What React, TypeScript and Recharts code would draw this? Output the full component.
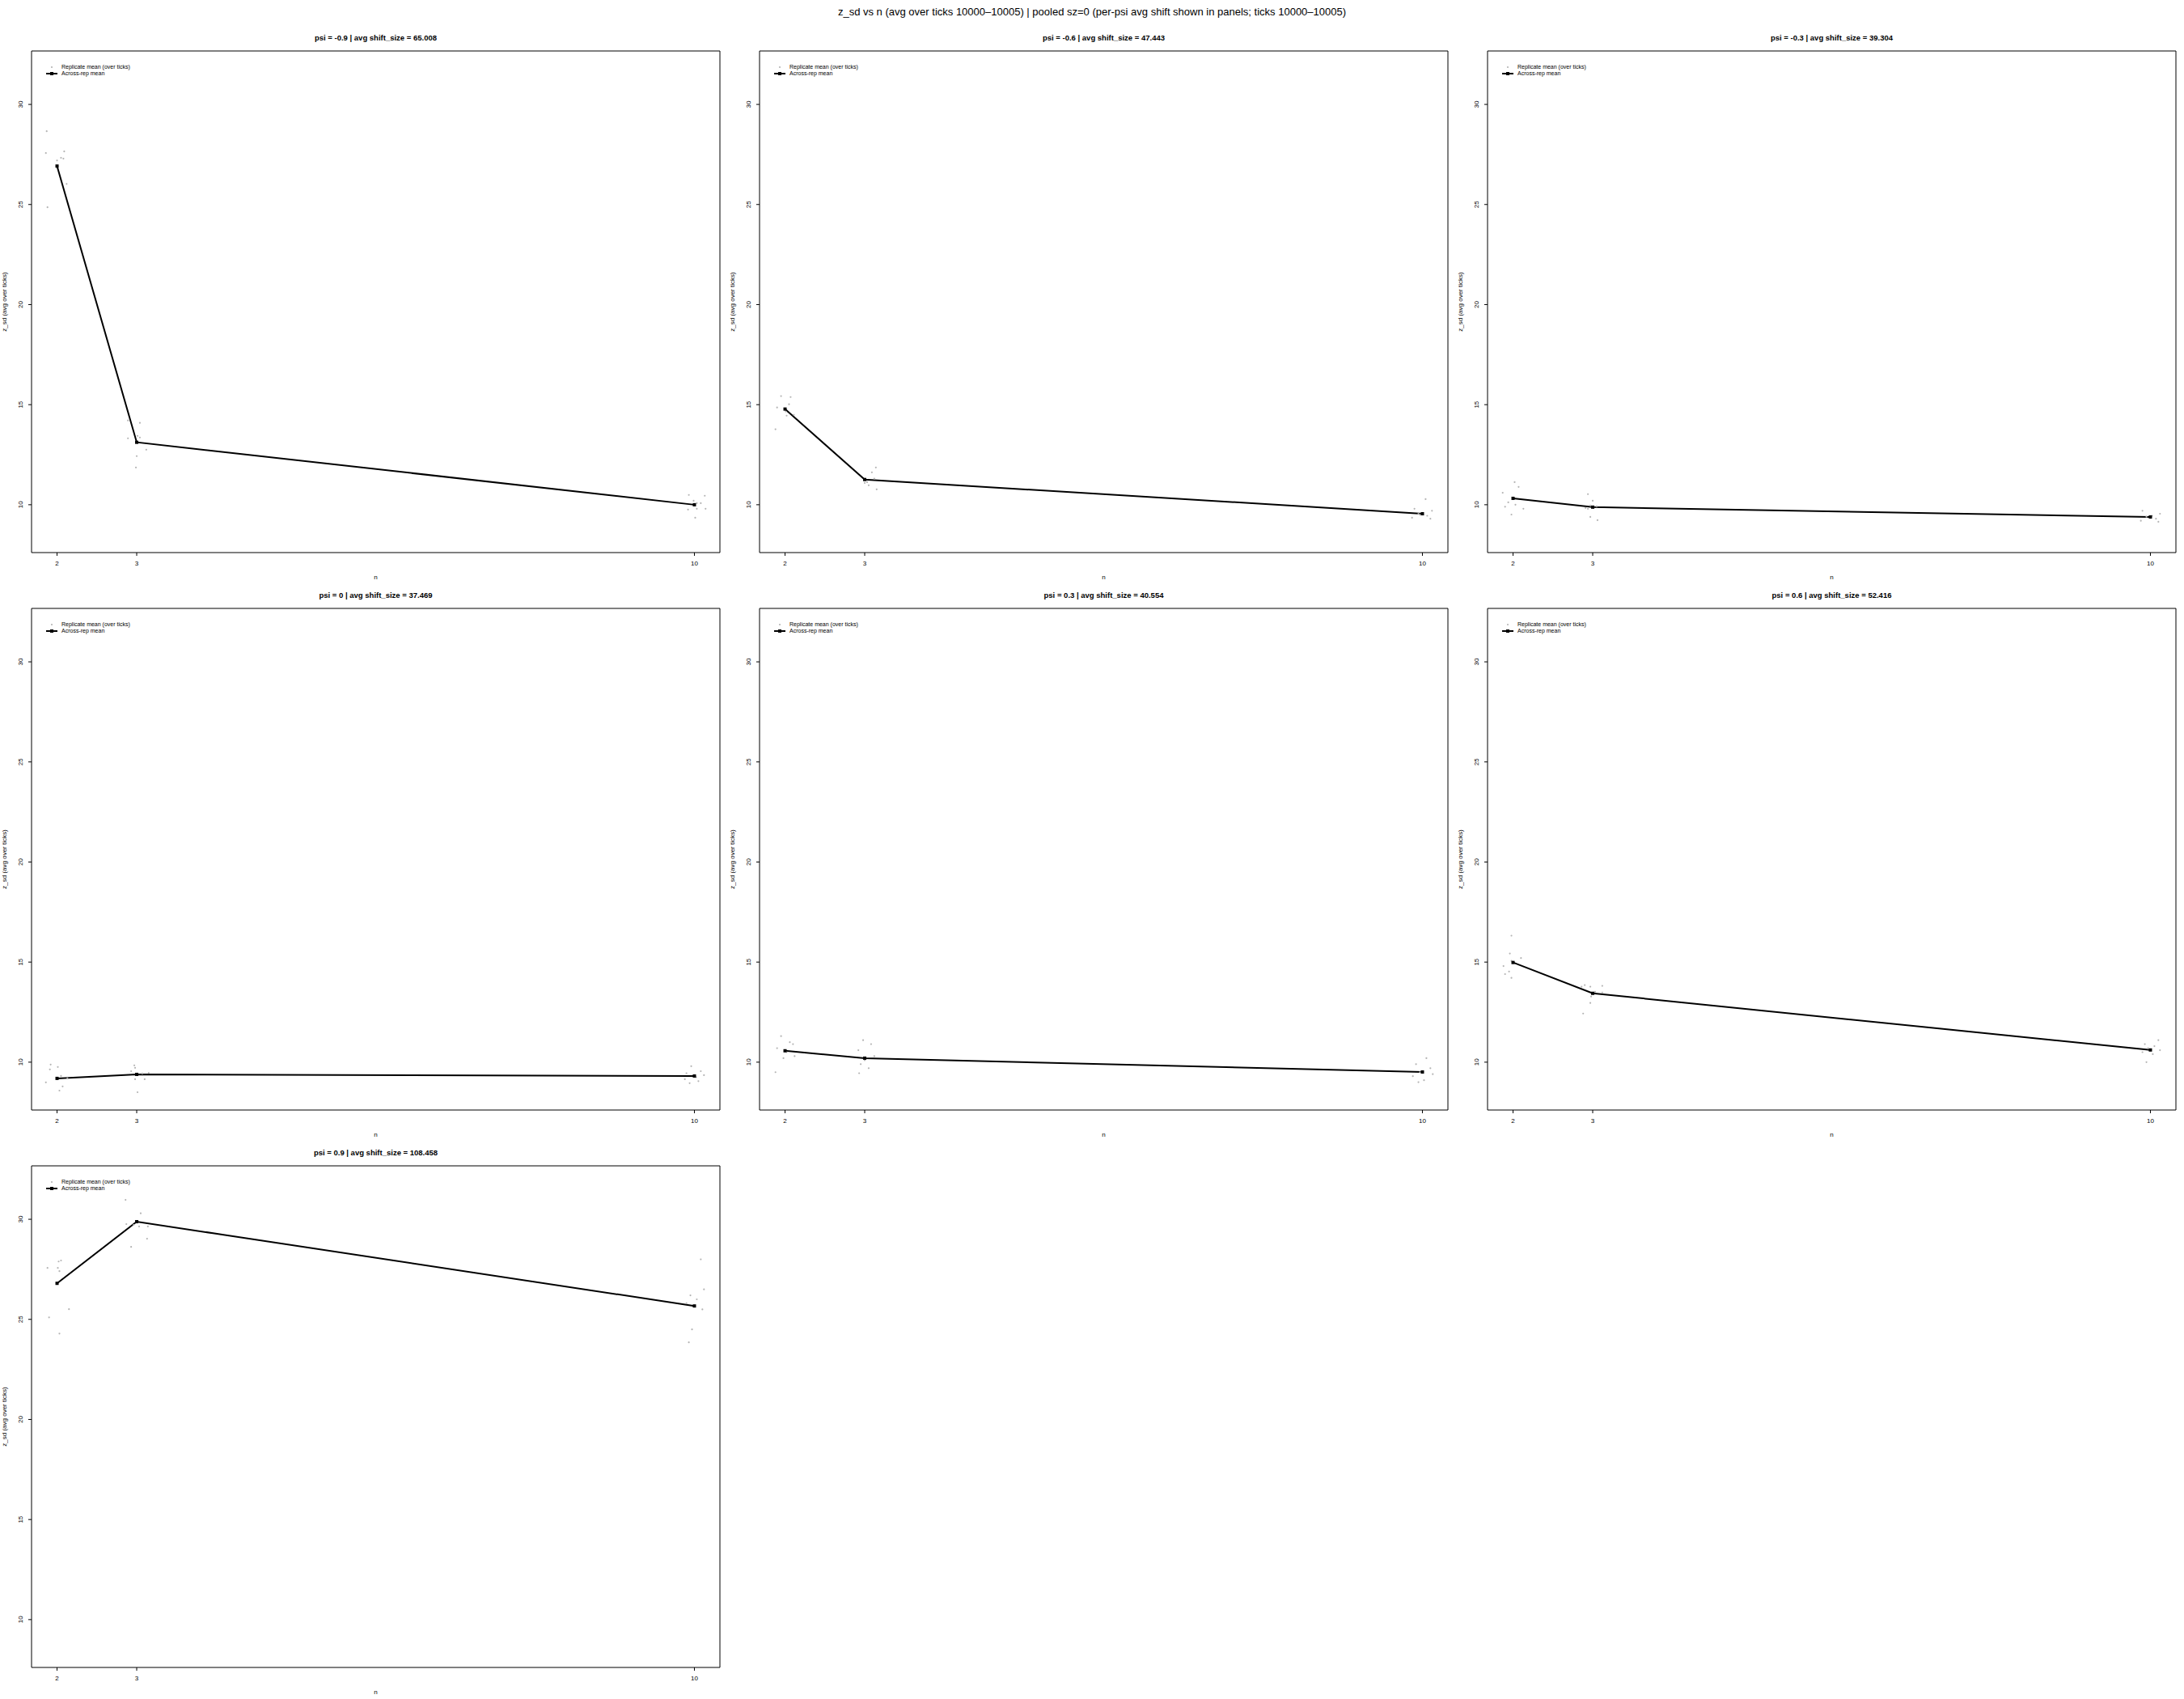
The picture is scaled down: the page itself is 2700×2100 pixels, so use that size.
import React from 'react'
import { ComposedChart, Line, Scatter, XAxis, YAxis, ReferenceArea, Legend } from 'recharts'

// n values on the x axis and the y ticks shared by all panels
const nValues = [2, 3, 10]
const yTicks = [10, 15, 20, 25, 30]

const psiValues = ['-0.9', '-0.6', '-0.3', '0', '0.3', '0.6', '0.9']
const avgShiftSize = ['65.008', '47.443', '39.304', '37.469', '40.554', '52.416', '108.458']

// across-rep mean of z_sd at n = 2, 3, 10 (one row per psi)
const meanZsd = [
  [26.92, 13.12, 10.0],
  [14.78, 11.26, 9.55],
  [10.32, 9.88, 9.39],
  [9.19, 9.39, 9.31],
  [10.57, 10.2, 9.51],
  [14.98, 13.44, 10.61],
  [26.8, 29.88, 25.67],
]

// replicate means, [jittered n, z_sd]
const repPsiM09 = [
  [1.87, 28.66], [1.86, 27.57], [2.09, 27.65], [2.0, 27.2], [2.05, 27.33], [2.08, 27.29], [2.12, 26.03], [1.88, 24.86],
  [2.89, 14.21], [3.04, 14.09], [2.89, 13.32], [3.01, 13.44], [3.04, 13.36], [3.12, 12.75], [3.0, 12.43], [2.99, 11.86],
  [9.93, 10.49], [9.99, 10.2], [10.13, 10.45], [10.08, 10.08], [10.03, 10.08], [9.92, 9.76], [10.03, 9.8], [10.14, 9.8], [10.01, 9.35],
]
const repPsiM06 = [
  [1.95, 15.43], [2.07, 15.38], [2.05, 15.02], [1.9, 14.86], [2.01, 14.66], [2.02, 14.45], [2.11, 14.49], [1.88, 13.77],
  [3.14, 11.86], [3.09, 11.62], [3.12, 11.3], [2.99, 11.26], [3.03, 11.13], [3.0, 11.09], [3.05, 10.97], [3.15, 10.77],
  [10.04, 10.28], [9.9, 9.8], [10.12, 9.7], [9.95, 9.55], [10.06, 9.45], [9.87, 9.35], [10.1, 9.3], [9.97, 9.5],
]
const repPsiM03 = [
  [2.02, 11.13], [2.07, 10.89], [1.94, 10.12], [2.03, 10.0], [2.13, 9.8], [1.98, 9.51], [1.87, 10.6], [1.9, 9.9],
  [2.94, 10.53], [3.0, 10.2], [2.97, 9.96], [3.05, 9.92], [2.91, 9.84], [2.94, 9.8], [2.97, 9.39], [3.06, 9.23],
  [9.9, 9.7], [10.12, 9.55], [10.02, 9.45], [9.95, 9.4], [10.07, 9.3], [9.88, 9.2], [10.1, 9.15], [10.0, 9.35],
]
const repPsi0 = [
  [1.92, 9.88], [1.91, 9.64], [2.01, 9.76], [2.05, 9.31], [2.13, 9.19], [1.86, 8.99], [2.07, 8.79], [2.03, 8.58],
  [2.97, 9.84], [2.98, 9.72], [2.93, 9.55], [3.07, 9.43], [3.15, 9.47], [2.98, 9.15], [3.1, 9.15], [3.01, 8.5],
  [9.96, 9.8], [10.08, 9.55], [9.9, 9.45], [10.12, 9.35], [10.02, 9.25], [9.88, 9.15], [10.05, 9.05], [9.94, 8.95],
]
const repPsi03 = [
  [1.95, 11.3], [2.06, 11.0], [2.1, 10.9], [1.9, 10.7], [2.02, 10.5], [2.12, 10.3], [1.98, 10.2], [1.88, 9.5],
  [2.98, 11.1], [3.08, 10.9], [2.92, 10.6], [3.12, 10.3], [3.0, 10.1], [2.95, 9.9], [3.05, 9.7], [2.93, 9.45],
  [10.05, 10.2], [9.92, 9.9], [10.1, 9.7], [9.97, 9.5], [10.13, 9.4], [9.88, 9.3], [10.02, 9.1], [9.95, 9.0],
]
const repPsi06 = [
  [1.98, 16.32], [1.96, 15.43], [1.98, 15.06], [1.95, 14.53], [1.98, 14.21], [1.88, 14.8], [1.9, 14.4], [2.1, 15.2],
  [2.86, 13.77], [2.9, 13.85], [2.97, 13.77], [3.03, 13.52], [3.12, 13.81], [3.12, 13.48], [2.98, 13.28], [2.97, 12.96], [2.88, 12.43],
  [10.1, 11.1], [9.93, 10.9], [10.05, 10.8], [9.97, 10.7], [10.12, 10.6], [9.9, 10.5], [10.03, 10.4], [9.95, 10.0],
]
const repPsi09 = [
  [2.05, 27.94], [2.02, 27.89], [1.88, 27.57], [2.01, 27.57], [2.03, 27.41], [2.15, 25.51], [1.9, 25.1], [2.03, 24.29],
  [2.86, 30.97], [2.87, 29.76], [2.96, 29.72], [3.03, 29.64], [3.14, 29.64], [3.13, 29.03], [2.93, 28.62], [3.05, 30.3],
  [10.08, 28.0], [10.12, 26.5], [9.95, 26.2], [10.03, 26.0], [9.9, 25.8], [10.1, 25.5], [9.97, 24.5], [9.93, 23.85],
]
const replicates = [repPsiM09, repPsiM06, repPsiM03, repPsi0, repPsi03, repPsi06, repPsi09]

const FONT = '"Liberation Sans", Arial, Helvetica, sans-serif'
const X_DOMAIN: [number, number] = [1.68, 10.32]
const Y_DOMAIN: [number, number] = [7.61, 32.67]
const PANEL_W = 900
const PANEL_H = 689
const TOP_OMA = 33
const GREY = '#b4b4b4'
const AXIS_FONT = 8

const MeanDot = (props: any) => {
  const { cx, cy } = props
  if (cx == null || cy == null) return null
  return <rect x={cx - 2} y={cy - 2} width={4} height={4} fill="#000" />
}

const RepDot = (props: any) => {
  const { cx, cy } = props
  if (cx == null || cy == null) return null
  return <circle cx={cx} cy={cy} r={1.1} fill={GREY} />
}

const YTick = (props: any) => {
  const { x, y, payload } = props
  return (
    <text
      x={x}
      y={y}
      transform={`rotate(-90 ${x} ${y})`}
      textAnchor="middle"
      fontSize={AXIS_FONT}
      fontFamily={FONT}
      fill="#000"
    >
      {payload.value}
    </text>
  )
}

const LegendBox = () => (
  <div style={{ fontFamily: FONT, fontSize: 7, color: '#000', lineHeight: '8px' }}>
    <div style={{ display: 'flex', alignItems: 'center', height: 8 }}>
      <svg width={18} height={8} style={{ marginRight: 3 }}>
        <circle cx={9} cy={4} r={1.1} fill={GREY} />
      </svg>
      <span>Replicate mean (over ticks)</span>
    </div>
    <div style={{ display: 'flex', alignItems: 'center', height: 8 }}>
      <svg width={18} height={8} style={{ marginRight: 3 }}>
        <line x1={2} y1={4} x2={16} y2={4} stroke="#000" strokeWidth={2} />
        <rect x={7} y={2} width={4} height={4} fill="#000" />
      </svg>
      <span>Across-rep mean</span>
    </div>
  </div>
)

function Panel({ index }: { index: number }) {
  const col = index % 3
  const row = Math.floor(index / 3)
  const meanData = nValues.map((n, i) => ({ x: n, y: meanZsd[index][i] }))
  const repData = replicates[index].map(([x, y]) => ({ x, y }))

  return (
    <div
      style={{
        position: 'absolute',
        left: col * PANEL_W,
        top: TOP_OMA + row * PANEL_H,
        width: PANEL_W,
        height: PANEL_H,
      }}
    >
      <div
        style={{
          position: 'absolute',
          left: 39,
          width: 851,
          top: 8,
          textAlign: 'center',
          fontFamily: FONT,
          fontWeight: 'bold',
          fontSize: 9.5,
          lineHeight: '12px',
        }}
      >
        psi = {psiValues[index]} | avg shift_size = {avgShiftSize[index]}
      </div>
      <ComposedChart
        width={PANEL_W}
        height={PANEL_H}
        margin={{ top: 30, right: 10, bottom: 0, left: 0 }}
        style={{ fontFamily: FONT }}
      >
        <XAxis
          dataKey="x"
          type="number"
          domain={X_DOMAIN}
          allowDataOverflow
          ticks={nValues}
          interval={0}
          height={39}
          axisLine={false}
          tickLine={{ stroke: '#000' }}
          tickSize={4}
          tickMargin={6}
          tick={{ fontSize: AXIS_FONT, fill: '#000', fontFamily: FONT }}
        />
        <YAxis
          dataKey="y"
          type="number"
          domain={Y_DOMAIN}
          allowDataOverflow
          ticks={yTicks}
          interval={0}
          width={39}
          axisLine={false}
          tickLine={{ stroke: '#000' }}
          tickSize={4}
          tickMargin={7}
          tick={<YTick />}
        />
        <ReferenceArea
          x1={X_DOMAIN[0]}
          x2={X_DOMAIN[1]}
          y1={Y_DOMAIN[0]}
          y2={Y_DOMAIN[1]}
          fill="none"
          stroke="#000"
          strokeWidth={1}
          ifOverflow="visible"
        />
        <Legend
          layout="vertical"
          align="center"
          verticalAlign="middle"
          content={<LegendBox />}
          wrapperStyle={{ left: 55, top: 46, width: 'auto' }}
        />
        <Scatter data={repData} dataKey="y" shape={<RepDot />} isAnimationActive={false} legendType="none" />
        <Line
          data={meanData}
          dataKey="y"
          stroke="#000"
          strokeWidth={2}
          dot={<MeanDot />}
          activeDot={false}
          isAnimationActive={false}
          legendType="none"
        />
      </ComposedChart>
      <div
        style={{
          position: 'absolute',
          left: 39,
          width: 851,
          top: 676,
          textAlign: 'center',
          fontFamily: FONT,
          fontSize: AXIS_FONT,
          lineHeight: '10px',
        }}
      >
        n
      </div>
      <div
        style={{
          position: 'absolute',
          left: 6 - 310,
          top: 340 - 5,
          width: 620,
          height: 10,
          lineHeight: '10px',
          textAlign: 'center',
          fontFamily: FONT,
          fontSize: AXIS_FONT,
          transform: 'rotate(-90deg)',
        }}
      >
        z_sd (avg over ticks)
      </div>
    </div>
  )
}

export default function App() {
  return (
    <div
      style={{
        position: 'absolute',
        left: 0,
        top: 0,
        width: 2700,
        height: 2100,
        background: '#fff',
        overflow: 'hidden',
      }}
    >
      <div
        style={{
          position: 'absolute',
          left: 0,
          width: 2700,
          top: 7,
          textAlign: 'center',
          fontFamily: FONT,
          fontSize: 13,
          lineHeight: '16px',
        }}
      >
        z_sd vs n (avg over ticks 10000–10005) | pooled sz=0 (per-psi avg shift shown in panels; ticks 10000–10005)
      </div>
      {psiValues.map((_, i) => (
        <Panel key={i} index={i} />
      ))}
    </div>
  )
}
